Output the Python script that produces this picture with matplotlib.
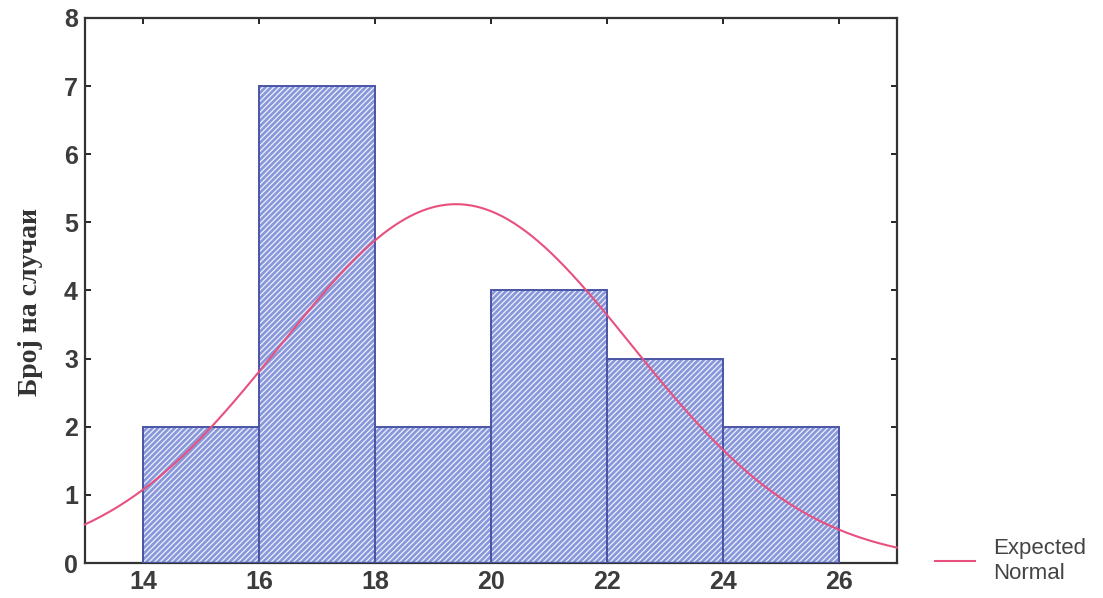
import numpy as np
import matplotlib
matplotlib.use("Agg")
import matplotlib.pyplot as plt
import matplotlib.lines as mlines

# histogram bins (edges) and counts
bin_edges = [14, 16, 18, 20, 22, 24, 26]
counts = [2, 7, 2, 4, 3, 2]
n_cases = 20
# expected normal parameters
norm_mean = 19.4
norm_sd = 3.03

x_ticks = [14, 16, 18, 20, 22, 24, 26]
y_ticks = [0, 1, 2, 3, 4, 5, 6, 7, 8]

fig = plt.figure(figsize=(11.03, 5.98), dpi=100)
ax = fig.add_axes([0.077, 0.0585, 0.736, 0.9115])

lefts = np.array(bin_edges[:-1])
widths = np.diff(bin_edges)

plt.rcParams['hatch.linewidth'] = 0.9
# blue fill with white stripes, then a dark blue outline on top
ax.bar(lefts, counts, width=widths, align='edge', color='#8797da',
       edgecolor='#eef0fb', hatch='//////', linewidth=0, zorder=2)
ax.bar(lefts, counts, width=widths, align='edge', fill=False,
       edgecolor='#4b55a6', linewidth=1.4, zorder=3)

# expected normal curve scaled to counts per bin
xs = np.linspace(13, 27, 400)
bw = widths[0]
ys = n_cases * bw / (norm_sd * np.sqrt(2 * np.pi)) * np.exp(-0.5 * ((xs - norm_mean) / norm_sd) ** 2)
ax.plot(xs, ys, color='#e8507e', linewidth=1.5, zorder=4, clip_on=False)

ax.set_xlim(13, 27)
ax.set_ylim(0, 8)
ax.set_xticks(x_ticks)
ax.set_yticks(y_ticks)
ax.tick_params(direction='in', length=4, width=1.2, top=True, right=True,
               labelsize=18, labelcolor='#3c3c3c', pad=5)
for lab in ax.get_xticklabels() + ax.get_yticklabels():
    lab.set_fontweight('bold')
    lab.set_family('Liberation Sans')
for sp in ax.spines.values():
    sp.set_linewidth(1.6)
    sp.set_color('#333333')

ax.set_ylabel('Број на случаи', family='Liberation Serif', fontweight='bold',
              fontsize=20, color='#333333')
ax.yaxis.set_label_coords(-0.052, 0.478)

# legend outside the axes
handle = mlines.Line2D([], [], color='#e8507e', linewidth=1.5)
fig.legend([handle], ['Expected\nNormal'], loc='center left',
           bbox_to_anchor=(0.83, 0.062), frameon=False, handlelength=1.8,
           handletextpad=0.8, labelspacing=0.2,
           prop={'family': 'Liberation Sans', 'size': 16}, labelcolor='#444444')

fig.savefig('out.png', dpi=100)
